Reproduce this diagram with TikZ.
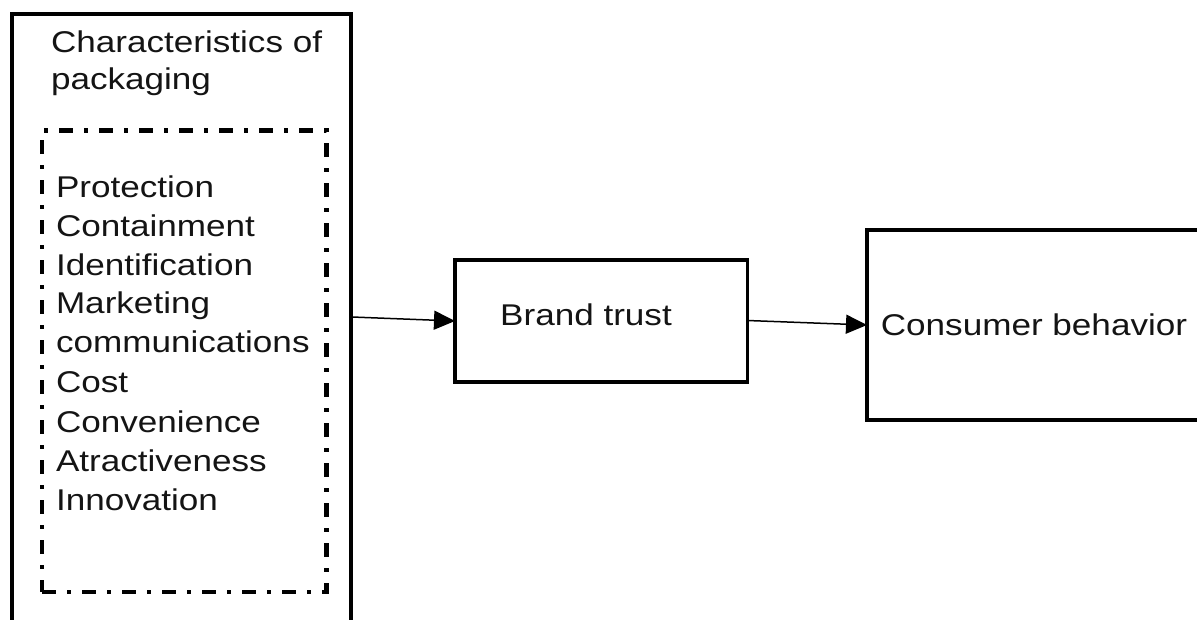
\documentclass[tikz,border=0pt]{standalone}
\usepackage{fontspec}
\setmainfont{Liberation Sans}[FakeStretch=1.17]
\usetikzlibrary{arrows.meta}
\begin{document}
\begin{tikzpicture}[x=1pt,y=-1pt,
  box/.style={draw, outer sep=0pt, inner sep=0pt},
  txt/.style={anchor=base west, inner sep=0pt, outer sep=0pt, font=\fontsize{30}{36}\selectfont, text=black!92},
  arr/.style={line width=1.5pt, -{Triangle[length=21pt,width=19pt]}}]
\useasboundingbox (0,0) rectangle (1197,619);
\clip (0,0) rectangle (1197,619);
% outer box (cut at the bottom)
\node[box, line width=4pt, minimum width=339pt, minimum height=720pt, anchor=north west] (outer) at (12,13.5) {};
\node[txt] (h1) at (51,52) {Characteristics of};
\node[txt] (h2) at (51,89) {packaging};
% dash-dot inner box
\node[box, line width=4.5pt, dash pattern=on 14pt off 11pt on 4pt off 11pt, minimum width=284.5pt, minimum height=461.5pt, anchor=north west] (inner) at (42,130.5) {};
\node[txt] (l1) at (56,197) {Protection};
\node[txt] (l2) at (56,236) {Containment};
\node[txt] (l3) at (56,275) {Identification};
\node[txt] (l4) at (56,313) {Marketing};
\node[txt] (l5) at (56,352) {communications};
\node[txt] (l6) at (56,392) {Cost};
\node[txt] (l7) at (56,432) {Convenience};
\node[txt] (l8) at (56,471) {Atractiveness};
\node[txt] (l9) at (56,510) {Innovation};
% brand trust
\node[box, line width=3.5pt, minimum width=292.5pt, minimum height=122pt] (bt) at (601.25,321) {};
\node[txt, anchor=base] (btt) at (586,325) {Brand trust};
% consumer behavior (cut at the right)
\node[box, line width=3.5pt, minimum width=383pt, minimum height=190pt, anchor=north west] (cb) at (867,230) {};
\node[txt, anchor=base] (cbt) at (1034,335) {Consumer behavior};
% connectors
\coordinate (a1) at (352,317);
\draw[arr] (a1) -- (bt.west);
\draw[arr] ([yshift=0.5pt]bt.east) -- (cb.west);
\end{tikzpicture}
\end{document}
